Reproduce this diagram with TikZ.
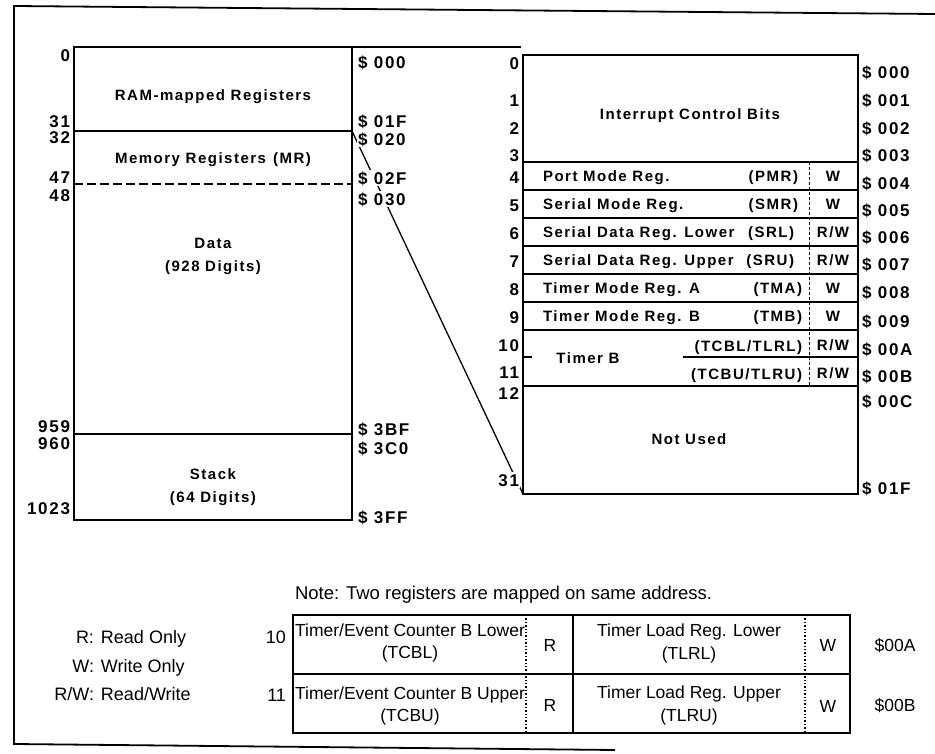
\documentclass[tikz,border=0pt]{standalone}
\usepackage{fontspec}
\setmainfont{Liberation Sans}
\newfontfamily\widefont{Liberation Sans}[LetterSpace=10]
\newcommand\RWx{R/W}
\begin{document}
\begin{tikzpicture}[x=1pt,y=-1pt,
  every node/.style={inner sep=0pt, outer sep=0pt},
  bt/.style={font=\widefont\bfseries\fontsize{15}{18}\selectfont, text height=10.8pt, text depth=0pt},
  bn/.style={font=\widefont\bfseries\fontsize{17}{20}\selectfont, text height=12.2pt, text depth=0pt},
  lt/.style={font=\fontsize{17.5}{20}\selectfont, text height=12.6pt, text depth=0pt},
  ltl/.style={font=\fontsize{18}{21}\selectfont, text height=13pt, text depth=0pt},
  ltn/.style={font=\fontsize{18.5}{22}\selectfont, text height=13.3pt, text depth=0pt},
  white box/.style={fill=white, inner xsep=1pt, inner ysep=2pt},
  heavy/.style={line width=2.6pt},
  rowline/.style={line width=2.2pt},
  thinline/.style={line width=1.3pt},
  seprule/.style={line width=0.8pt, dash pattern=on 3pt off 2pt},
  dotsep/.style={line width=1.4pt, dash pattern=on 1.4pt off 2pt},
  expand/.style={line width=1.3pt},
]
\useasboundingbox (0,0) rectangle (935,754);

% outer frame
\coordinate (F1) at (935,14);
\coordinate (F2) at (14,6);
\coordinate (F3) at (14,744);
\coordinate (F4) at (615,750);
\draw[line width=1.8pt] (F1) -- (F2) -- (F3) -- (F4);

% ---------- left box (RAM) ----------
\coordinate (LA) at (74,47);
\coordinate (LB) at (352,520);
\coordinate (LTR) at (352,47);
\coordinate (LMR) at (352,131);
\draw[heavy] (LA) rectangle (LB);
\draw[heavy] (74,131) -- (352,131);
\draw[line width=2pt, dash pattern=on 9pt off 4pt] (74,184) -- (352,184);
\draw[heavy] (74,434) -- (352,434);

% ---------- right box (RAM-mapped registers) ----------
\coordinate (RA) at (523,55);
\coordinate (RB) at (858,494);
\coordinate (RBL) at (523,494);
\coordinate (RTX) at (521,47);
\draw[heavy] (RA) rectangle (RB);
\foreach \yy in {162,190,218,246,274,302,330,386}
  \draw[rowline] (523,\yy) -- (858,\yy);
\draw[line width=1.8pt] (683,357) -- (858,357);
\draw[line width=1.8pt] (523,357) -- (532,357);
\draw[seprule] (809,162) -- (809,386);

% expansion lines
\draw[expand] (LTR) -- (RTX);
\draw[expand] (LMR) -- (RBL);

% left box texts
\node[bt] (ram) at (213,95) {RAM-mapped Registers};
\node[bt] (mr) at (213,158) {Memory Registers\hspace{7pt}(MR)};
\node[bt] (data) at (213,243) {Data};
\node[bt] (datad) at (213,266) {(928 Digits)};
\node[bt] (stk) at (213,474) {Stack};
\node[bt] (stkd) at (213,497) {(64 Digits)};

\foreach \t/\yy [count=\i] in {0/55, 31/121, 32/137, 47/177, 48/195, 959/426, 960/443, 1023/508}
  \node[bn, anchor=east] (ln\i) at (70,\yy) {\t};

\foreach \t/\yy [count=\i] in {000/62, 01F/121, 020/139, 02F/178, 030/199, 3BF/429, 3C0/448, 3FF/517}
  \node[bn, white box, anchor=west] (la\i) at (357,\yy) {\$ \t};

% right box texts
\node[bt] (icb) at (690,114) {Interrupt Control Bits};
\node[bt] (nu) at (689,439) {Not Used};

\foreach \t/\yy in {0/63,1/100,2/128,3/155,4/177,5/205,6/233,7/261,8/289,9/317,10/345,11/372,12/393,31/480}
  \node[bn, white box, anchor=east] (rn\t) at (520,\yy) {\t};

\foreach \t/\yy in {000/72,001/100,002/128,003/155,004/183,005/210,006/237,007/264,008/292,009/321,00A/349,00B/376,00C/401,01F/488}
  \node[bn, anchor=west] (ra\t) at (862,\yy) {\$ \t};

\foreach \n/\a/\b/\xe/\c in {4/Port Mode Reg./(PMR)/798/W, 5/Serial Mode Reg./(SMR)/798/W, 6/Serial Data Reg. Lower/(SRL)/794/\RWx, 7/Serial Data Reg. Upper/(SRU)/794/\RWx, 8/Timer Mode Reg. A/(TMA)/802/W, 9/Timer Mode Reg. B/(TMB)/802/W}{
  \pgfmathsetmacro\ry{176+28*(\n-4)}
  \node[bt, anchor=west] (rt\n) at (543,\ry) {\a};
  \node[bt, anchor=east] (rc\n) at (\xe,\ry) {\b};
  \node[bt] (rw\n) at (833,\ry) {\c};
}
\node[bt] (tb) at (588,358) {Timer B};
\node[bt, anchor=east] (tbl) at (802,346) {(TCBL/TLRL)};
\node[bt, anchor=east] (tbu) at (802,374) {(TCBU/TLRU)};
\node[bt] (rw10) at (833,345) {R/W};
\node[bt] (rw11) at (833,373) {R/W};

% ---------- bottom: note and table ----------
\node[ltn, anchor=west] (note) at (295,593) {Note: Two registers are mapped on same address.};

\coordinate (TA) at (293,615);
\coordinate (TB) at (850,733);
\draw[thinline] (TA) rectangle (TB);
\draw[thinline] (293,674) -- (850,674);
\draw[thinline] (573,615) -- (573,733);
\draw[dotsep] (526,615) -- (526,733);
\draw[dotsep] (805,615) -- (805,733);

\node[lt] (c1a) at (410,630) {Timer/Event Counter B Lower};
\node[lt] (c1b) at (410,652) {(TCBL)};
\node[lt] (c1r) at (550,645) {R};
\node[lt] (c1c) at (689,630) {Timer Load Reg. Lower};
\node[lt] (c1d) at (689,653) {(TLRL)};
\node[lt] (c1w) at (828,645) {W};
\node[lt] (c1s) at (895,645) {\$00A};

\node[lt] (c2a) at (410,693) {Timer/Event Counter B Upper};
\node[lt] (c2b) at (410,715) {(TCBU)};
\node[lt] (c2r) at (550,705) {R};
\node[lt] (c2c) at (689,692) {Timer Load Reg. Upper};
\node[lt] (c2d) at (689,715) {(TLRU)};
\node[lt] (c2w) at (828,706) {W};
\node[lt] (c2s) at (895,705) {\$00B};

\node[ltl, anchor=east] (b10) at (286,637) {10};
\node[ltl, anchor=east] (b11) at (286,695) {11};

% legend
\node[ltl, anchor=west] (lg1) at (94,637) {\llap{R:}\hspace{7pt}Read Only};
\node[ltl, anchor=west] (lg2) at (94,666) {\llap{W:}\hspace{7pt}Write Only};
\node[ltl, anchor=west] (lg3) at (94,694) {\llap{R/W:}\hspace{7pt}Read/Write};
\end{tikzpicture}
\end{document}
